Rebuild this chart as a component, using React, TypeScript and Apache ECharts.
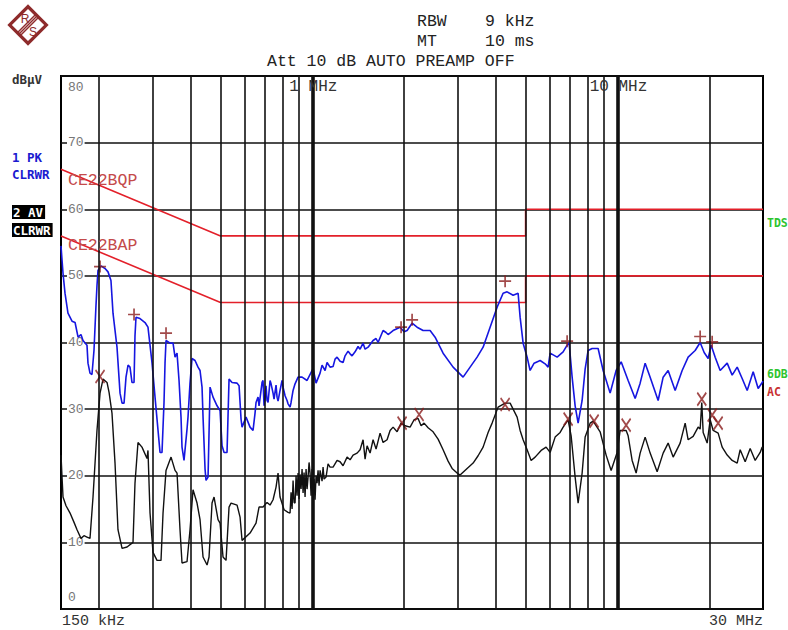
import React, { useEffect, useRef } from "react";
import * as echarts from "echarts";

// ---- Measured data (frequency in MHz, level in dBµV) ----
const pkFreqMHz = [
  0.15, 0.1511, 0.1523, 0.1546, 0.1581, 0.163, 0.1668, 0.1706, 0.1744, 0.1771,
  0.1825, 0.1839, 0.1867, 0.1895, 0.1924, 0.1953, 0.1968, 0.1983, 0.2029, 0.2092,
  0.2139, 0.2187, 0.2221, 0.2289, 0.2342, 0.2378, 0.2414, 0.245, 0.2488, 0.2525,
  0.2563, 0.2603, 0.2622, 0.2642, 0.2723, 0.2828, 0.2892, 0.2982, 0.305, 0.312,
  0.3167, 0.3215, 0.3264, 0.3289, 0.3314, 0.3416, 0.3494, 0.3547, 0.3601, 0.3656,
  0.3711, 0.3739, 0.3796, 0.3883, 0.3912, 0.3972, 0.4032, 0.4125, 0.4219, 0.4284,
  0.4349, 0.4382, 0.4449, 0.4482, 0.4551, 0.462, 0.4726, 0.4871, 0.4982, 0.5058,
  0.5135, 0.5252, 0.5332, 0.5455, 0.5665, 0.5751, 0.5838, 0.5882, 0.6062, 0.6248,
  0.6391, 0.6488, 0.6537, 0.6637, 0.6687, 0.6789, 0.684, 0.6892, 0.6945, 0.6997,
  0.705, 0.7104, 0.7158, 0.7267, 0.7322, 0.7433, 0.7489, 0.7603, 0.7661, 0.7719,
  0.7836, 0.7955, 0.8015, 0.8138, 0.8261, 0.8324, 0.8451, 0.8515, 0.8645, 0.8776,
  0.8977, 0.9252, 0.9609, 1.0053, 1.0283,
  1.0599, 1.076, 1.1007, 1.1174, 1.143, 1.1692, 1.187, 1.2051, 1.2327, 1.2609,
  1.2801, 1.3094, 1.3293, 1.3495, 1.3805, 1.412, 1.4336, 1.4664, 1.4888, 1.5228,
  1.5814, 1.6176, 1.6422, 1.7054, 1.7444, 1.7709, 1.8392, 1.939, 1.9985, 2.0443,
  2.1228, 2.2045, 2.3066, 2.4318, 2.5254, 2.6825, 2.893, 3.1197, 3.2891, 3.4677,
  3.6282, 3.8251, 4.0328, 4.2195, 4.3489, 4.5504, 4.7252, 4.7973, 4.9072, 5.0578,
  5.1734, 5.3322, 5.5791, 5.7939, 5.9262, 6.0166, 6.3433, 6.637, 6.8407, 6.9445,
  7.1035, 7.2665, 7.4323, 7.6604, 7.8362, 8.015, 8.2611, 8.6436, 8.9765, 9.4636,
  9.9018, 10.284, 10.841, 11.43, 11.869, 12.326, 12.8, 13.596, 14.119, 14.662,
  15.459, 16.297, 17.052, 17.978, 18.669, 19.242, 19.83, 20.287, 20.909, 21.713,
  22.892, 23.772, 24.688, 25.636, 26.623, 27.856, 28.926, 29.815, 30.0,
];
const pkLevel = [
  54.5, 52.5, 50.4, 47.4, 44.4, 43.2, 43.0, 40.8, 41.2, 40.3,
  39.6, 36.9, 35.4, 35.2, 38.8, 45.5, 48.5, 50.8, 51.5, 51.1,
  50.6, 49.3, 44.4, 39.3, 32.4, 30.9, 30.9, 34.8, 36.6, 36.3,
  34.0, 34.0, 41.0, 43.8, 43.6, 43.0, 42.3, 36.9, 31.8, 26.8,
  23.5, 23.5, 31.0, 36.9, 40.3, 39.9, 39.9, 37.8, 38.4, 34.3,
  28.8, 24.3, 22.3, 27.0, 28.8, 33.9, 37.6, 37.3, 36.3, 35.8,
  33.3, 28.8, 21.0, 19.3, 19.8, 33.3, 31.8, 30.5, 29.8, 24.5,
  23.5, 23.5, 34.5, 34.0, 33.9, 33.5, 28.5, 27.3, 28.8, 27.3,
  26.8, 29.4, 31.0, 31.8, 30.5, 32.8, 34.0, 34.3, 30.5, 31.5,
  33.5, 31.3, 31.0, 34.3, 33.8, 32.4, 31.5, 33.6, 31.8, 31.2,
  32.8, 34.3, 33.3, 32.0, 31.3, 30.8, 30.3, 31.0, 32.8, 33.8,
  34.8, 34.8, 34.3, 36.1, 33.9,
  35.4, 36.6, 35.8, 37.0, 36.3, 36.4, 37.5, 37.8, 37.2, 37.0,
  38.0, 38.7, 38.3, 38.0, 38.6, 39.4, 39.0, 39.9, 39.0, 39.3,
  40.3, 40.6, 40.0, 41.8, 41.5, 41.2, 41.8, 42.3, 41.6, 41.8,
  42.9, 42.3, 41.8, 41.8, 40.8, 38.4, 36.3, 34.8, 36.3, 37.8,
  39.3, 42.3, 45.3, 47.4, 47.6, 47.1, 47.4, 43.8, 39.9, 37.8,
  35.8, 36.9, 37.3, 36.8, 36.3, 38.4, 37.8, 38.6, 39.6, 39.9,
  34.8, 30.5, 27.9, 31.3, 36.0, 38.8, 39.1, 39.1, 35.8, 32.4,
  35.8, 37.1, 34.3, 31.6, 33.9, 36.9, 34.8, 31.3, 34.8, 35.8,
  32.8, 35.8, 37.8, 38.8, 40.0, 38.5, 37.6, 39.6, 37.8, 35.8,
  36.9, 35.1, 36.3, 34.6, 32.8, 35.6, 33.1, 34.0, 34.2,
];

const avFreqMHz = [
  0.15, 0.1511, 0.1523, 0.1558, 0.1606, 0.1655, 0.1693, 0.1744, 0.1784, 0.1825,
  0.1867, 0.191, 0.1968, 0.2014, 0.206, 0.2123, 0.2156, 0.2204, 0.2255, 0.2306,
  0.2378, 0.2469, 0.2583, 0.2622, 0.2682, 0.2764, 0.2871, 0.2892, 0.2937, 0.3004,
  0.3096, 0.3191, 0.324, 0.3314, 0.3442, 0.3547, 0.3601, 0.3683, 0.3739, 0.3883,
  0.3972, 0.4063, 0.4188, 0.4284, 0.4382, 0.4517, 0.4585, 0.469, 0.4762, 0.4907,
  0.4982, 0.5096, 0.5213, 0.5332, 0.5414, 0.5665, 0.5794, 0.5882, 0.6248, 0.6537,
  0.6687, 0.6892, 0.7104, 0.7267, 0.7433, 0.7603, 0.7719, 0.7836, 0.8077, 0.8324,
  0.8451, 0.8515, 0.858, 0.8645, 0.871, 0.8776, 0.8843, 0.891, 0.8977, 0.9045,
  0.9114, 0.9183, 0.9252, 0.9323, 0.9393, 0.9465, 0.9536, 0.9609, 0.9681, 0.9755,
  0.9828, 0.9903, 0.9978, 1.0053, 1.0129, 1.0206, 1.0283, 1.0361, 1.044, 1.0519,
  1.0599, 1.076, 1.0842, 1.0923, 1.1089, 1.1257, 1.143, 1.1692, 1.2051, 1.2327,
  1.2609, 1.2996, 1.3293, 1.3597, 1.4015, 1.4336, 1.4664, 1.4888, 1.5114, 1.546,
  1.5814, 1.6176, 1.6672, 1.7054, 1.7577, 1.798, 1.8392, 1.8956, 1.9537, 2.0136,
  2.091, 2.1552, 2.2211, 2.2721, 2.3242, 2.3953, 2.4875, 2.5831, 2.6825, 2.7857,
  2.8712, 2.9818, 3.0499, 3.2155, 3.3644, 3.4937, 3.6282, 3.7676, 3.8832, 4.0631,
  4.2838, 4.4485, 4.69, 4.7973, 4.9072, 5.0578, 5.2127, 5.3726, 5.6215, 5.8374,
  6.0166, 6.2482, 6.4884, 6.637, 6.892, 7.0503, 7.2665, 7.4323, 7.6604, 7.8362,
  8.1374, 8.3238, 8.7755, 9.1818, 9.5355, 9.9775, 10.206, 10.679, 10.841, 11.173,
  11.516, 11.869, 12.326, 12.8, 13.495, 14.119, 14.662, 15.227, 16.053, 16.671,
  17.052, 17.708, 18.389, 18.669, 18.9, 19.097, 19.683, 20.134, 20.595, 21.386,
  22.043, 22.892, 23.772, 24.688, 25.252, 26.224, 27.232, 28.28, 29.369, 29.815,
  30.0,
];
const avLevel = [
  23.1, 20.0, 16.8, 15.5, 14.4, 13.0, 11.9, 10.6, 11.0, 10.8,
  10.6, 16.8, 26.8, 32.4, 34.5, 34.0, 32.5, 29.4, 21.9, 11.9,
  9.1, 9.3, 10.0, 18.9, 25.0, 24.3, 22.6, 23.8, 14.4, 8.5,
  7.3, 7.3, 14.4, 20.8, 22.8, 20.8, 20.4, 11.9, 6.9, 7.1,
  11.9, 17.9, 15.9, 13.4, 7.8, 6.6, 7.8, 15.9, 16.8, 13.4,
  12.9, 7.8, 7.3, 15.3, 15.9, 15.6, 13.8, 10.3, 11.4, 12.9,
  15.3, 15.3, 16.0, 15.6, 16.4, 18.3, 20.4, 16.8, 14.9, 14.5,
  14.4, 17.5, 15.0, 19.3, 16.0, 15.9, 20.0, 17.0, 20.4, 16.5,
  20.2, 18.0, 21.0, 17.4, 20.5, 16.8, 21.0, 18.0, 19.8, 22.0,
  20.4, 17.0, 21.0, 16.4, 19.5, 16.4, 20.0, 18.9, 20.8, 18.5,
  20.8, 19.2, 21.3, 19.5, 19.8, 21.8, 21.3, 21.3, 22.3, 22.1,
  21.5, 22.8, 22.4, 23.1, 23.4, 23.9, 25.4, 22.5, 24.5, 23.4,
  25.4, 24.0, 26.4, 25.0, 25.4, 26.8, 27.3, 26.6, 27.9, 27.5,
  27.3, 28.4, 28.6, 27.5, 27.9, 27.2, 26.6, 25.5, 23.9, 22.2,
  21.1, 20.4, 20.1, 21.1, 21.9, 23.0, 24.3, 26.5, 27.9, 30.3,
  30.9, 30.9, 28.8, 26.8, 25.4, 23.9, 22.3, 22.8, 23.8, 24.3,
  23.5, 25.8, 26.5, 27.3, 28.4, 26.0, 19.8, 15.9, 20.4, 25.8,
  27.9, 28.2, 26.6, 23.1, 20.8, 23.5, 26.8, 26.8, 26.0, 22.3,
  20.4, 23.4, 25.8, 23.4, 20.6, 23.4, 24.9, 22.8, 24.9, 27.9,
  25.4, 25.9, 27.3, 27.0, 31.0, 26.5, 24.9, 28.4, 26.8, 26.4,
  24.3, 23.1, 22.3, 21.9, 23.9, 22.1, 24.1, 22.3, 23.5, 24.3,
  24.0,
];

// Peak markers (+) on trace 1 and average markers (x) on trace 2
const pkMarkFreqMHz = [0.2014, 0.2603, 0.3314, 1.9537, 2.1228, 4.2838, 6.8407, 18.669, 20.44];
const pkMarkLevel = [51.4, 44.2, 41.4, 42.3, 43.4, 49.2, 40.2, 40.9, 40.1];
const avMarkFreqMHz = [0.2014, 1.9685, 2.238, 4.2838, 6.892, 8.3871, 10.679, 18.9, 20.44, 21.386];
const avMarkLevel = [34.9, 27.9, 29.2, 30.7, 28.5, 28.2, 27.6, 31.5, 29.1, 27.9];

// CISPR 22 class B limit lines
const limitFreqMHz = [0.15, 0.5, 5, 5, 30];
const qpLimitLevel = [66, 56, 56, 60, 60];
const avLimitLevel = [56, 46, 46, 50, 50];

// Frequency grid
const gridFreqMHz = [0.2, 0.3, 0.4, 0.5, 0.6, 0.7, 0.8, 0.9, 1, 2, 3, 4, 5, 6, 7, 8, 9, 10, 20];
const decadeFreqMHz = [1, 10];
const decadeLabels = ["1 MHz", "10 MHz"];
const spanLabels = ["150 kHz", "30 MHz"];

const pair = (f: number[], v: number[]) => f.map((x, i) => [x, v[i]]);

const MONO = '"Liberation Mono", "DejaVu Sans Mono", monospace';
const BOLD_MONO = 'bold 12.5px "DejaVu Sans Mono", monospace';
const SIDE_MONO = 'bold 11.5px "DejaVu Sans Mono", monospace';
const MARK = "#8b1d1d";
const LIMIT = "#e3202a";
const LOGO = "#8e2b2b";

export default function App() {
  const ref = useRef<HTMLDivElement>(null);

  useEffect(() => {
    document.body.style.margin = "0";
    const chart = echarts.init(ref.current!, null, { renderer: "svg" });

    chart.setOption({
      animation: false,
      backgroundColor: "#fff",
      grid: {
        left: 61,
        top: 76,
        right: 25,
        bottom: 21,
        show: true,
        borderColor: "#000",
        borderWidth: 2,
        backgroundColor: "transparent",
      },
      xAxis: {
        type: "log",
        logBase: 10,
        min: 0.15,
        max: 30,
        axisLine: { show: false },
        axisTick: { show: false },
        axisLabel: { show: false },
        splitLine: { show: false },
        minorSplitLine: { show: false },
      },
      yAxis: {
        type: "value",
        min: 0,
        max: 80,
        interval: 10,
        axisLine: { show: false },
        axisTick: { show: false },
        splitLine: { show: true, lineStyle: { color: "#111", width: 1.6 } },
        axisLabel: {
          inside: true,
          margin: 6,
          color: "#777",
          fontFamily: MONO,
          fontSize: 13,
          backgroundColor: "#fff",
          padding: [0, 1],
          formatter: (v: number) => (v === 0 || v === 80 ? "" : String(v)),
        },
      },
      series: [
        {
          name: "grid",
          type: "line",
          data: [],
          z: 1,
          silent: true,
          markLine: {
            silent: true,
            symbol: ["none", "none"],
            label: { show: false },
            animation: false,
            lineStyle: { color: "#111", width: 1.6, type: "solid" },
            data: gridFreqMHz.map((f) => ({
              xAxis: f,
              lineStyle: {
                color: "#111",
                type: "solid",
                width: decadeFreqMHz.includes(f) ? 3.6 : 1.6,
              },
            })),
          },
        },
        {
          name: "CE22BQP",
          type: "line",
          data: pair(limitFreqMHz, qpLimitLevel),
          symbol: "none",
          z: 2,
          lineStyle: { color: LIMIT, width: 1.6 },
        },
        {
          name: "CE22BAP",
          type: "line",
          data: pair(limitFreqMHz, avLimitLevel),
          symbol: "none",
          z: 2,
          lineStyle: { color: LIMIT, width: 1.6 },
        },
        {
          name: "1 PK",
          type: "line",
          data: pair(pkFreqMHz, pkLevel),
          symbol: "none",
          z: 3,
          lineStyle: { color: "#1616e0", width: 1.6 },
        },
        {
          name: "2 AV",
          type: "line",
          data: pair(avFreqMHz, avLevel),
          symbol: "none",
          z: 3,
          lineStyle: { color: "#111", width: 1.4 },
        },
        {
          name: "PK marks",
          type: "scatter",
          data: pair(pkMarkFreqMHz, pkMarkLevel),
          z: 4,
          symbol: "path://M6,0 L6,12 M0,6 L12,6",
          symbolSize: 12,
          itemStyle: { color: "none", borderColor: MARK, borderWidth: 1.7 },
        },
        {
          name: "AV marks",
          type: "scatter",
          data: pair(avMarkFreqMHz, avMarkLevel),
          z: 4,
          symbol: "path://M0,0 L8,12 M8,0 L0,12",
          symbolSize: [9, 13],
          itemStyle: { color: "none", borderColor: MARK, borderWidth: 1.8 },
        },
      ],
    });

    const at = (f: number, db: number) =>
      chart.convertToPixel({ gridIndex: 0 }, [f, db]) as number[];
    const [xLeft, yTop] = at(0.15, 80);
    const [xRight, yBottom] = at(30, 0);
    const [, yQp] = at(limitFreqMHz[0], qpLimitLevel[0]);
    const [, yAvLim] = at(limitFreqMHz[0], avLimitLevel[0]);
    const [, yTds] = at(30, qpLimitLevel[4] - 2);
    const [, y6db] = at(30, 35.2);
    const [, yAc] = at(30, 32.6);

    const txt = (
      text: string,
      x: number,
      y: number,
      font: string,
      fill: string,
      align: string = "left",
      extra: Record<string, unknown> = {}
    ) => ({
      type: "text",
      x,
      y,
      z: 10,
      silent: true,
      style: { text, font, fill, align, verticalAlign: "middle", ...extra },
    });

    const header = `16.5px ${MONO}`;
    const stripe = (o: number) => ({
      type: "line",
      shape: { x1: -9 + o, y1: 9 + o, x2: 9 + o, y2: -9 + o },
      style: { stroke: LOGO, lineWidth: 1.4 },
    });

    chart.setOption({
      graphic: [
        {
          type: "group",
          x: 28,
          y: 25,
          children: [
            {
              type: "rect",
              shape: { x: -13, y: -13, width: 26, height: 26 },
              rotation: Math.PI / 4,
              style: { fill: "#fff", stroke: LOGO, lineWidth: 3.2 },
            },
            stripe(-1.4),
            stripe(0),
            stripe(1.4),
            {
              type: "text",
              x: -3,
              y: -6,
              style: { text: "R", font: "12px 'Liberation Sans', sans-serif", fill: LOGO, align: "center", verticalAlign: "middle" },
            },
            {
              type: "text",
              x: 5,
              y: 7,
              style: { text: "S", font: "12px 'Liberation Sans', sans-serif", fill: LOGO, align: "center", verticalAlign: "middle" },
            },
          ],
        },
        txt("RBW", 417, 21, header, "#222"),
        txt("9 kHz", 485, 21, header, "#222"),
        txt("MT", 417, 41, header, "#222"),
        txt("10 ms", 485, 41, header, "#222"),
        txt("Att 10 dB AUTO PREAMP OFF", 267, 61, header, "#222"),
        txt("dBµV", 12, 79, BOLD_MONO, "#333"),
        txt("1 PK", 12, 157, BOLD_MONO, "#1a1ad0"),
        txt("CLRWR", 12, 174, BOLD_MONO, "#1a1ad0"),
        txt("2 AV", 12, 212, BOLD_MONO, "#fff", "left", { backgroundColor: "#000", padding: [1, 2, 0, 1] }),
        txt("CLRWR", 12, 230, BOLD_MONO, "#fff", "left", { backgroundColor: "#000", padding: [1, 2, 0, 1] }),
        txt("CE22BQP", xLeft + 7, yQp + 11, `16.5px ${MONO}`, "#c44a4a"),
        txt("CE22BAP", xLeft + 7, yAvLim + 10, `16.5px ${MONO}`, "#c44a4a"),
        txt("80", xLeft + 7, yTop + 11, `13px ${MONO}`, "#777"),
        txt("0", xLeft + 7, yBottom - 12, `13px ${MONO}`, "#777"),
        ...decadeFreqMHz.map((f, i) => {
          const [x] = at(f, 80);
          return txt(decadeLabels[i], x + 1, yTop + 11, `16px ${MONO}`, "#333", "center");
        }),
        txt(spanLabels[0], xLeft + 1, yBottom + 12, `15px ${MONO}`, "#333"),
        txt(spanLabels[1], xRight, yBottom + 12, `15px ${MONO}`, "#333", "right"),
        txt("TDS", xRight + 4, yTds, SIDE_MONO, "#2fc42f"),
        txt("6DB", xRight + 4, y6db, SIDE_MONO, "#2fc42f"),
        txt("AC", xRight + 4, yAc, SIDE_MONO, "#c83030"),
      ],
    });

    return () => chart.dispose();
  }, []);

  return <div ref={ref} style={{ width: 788, height: 630 }} />;
}
